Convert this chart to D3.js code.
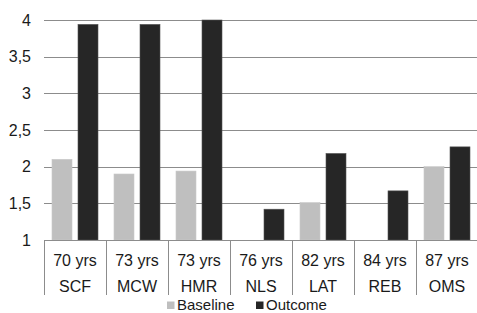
<!DOCTYPE html>
<html>
<head>
<meta charset="utf-8">
<script src="https://cdn.jsdelivr.net/npm/d3@7"></script>
<style>
html,body{margin:0;padding:0;background:#fff;overflow:hidden;}
text{font-family:"Liberation Sans",Arial,sans-serif;}
</style>
</head>
<body>
<svg id="chart" width="477" height="313"></svg>
<script>
const categories = ["SCF","MCW","HMR","NLS","LAT","REB","OMS"];
const ages = ["70 yrs","73 yrs","73 yrs","76 yrs","82 yrs","84 yrs","87 yrs"];
const seriesNames = ["Baseline","Outcome"];
const baseline = [2.10, 1.90, 1.94, null, 1.51, null, 2.00];
const outcome = [3.94, 3.94, 4.00, 1.42, 2.18, 1.67, 2.27];
const yTicks = [1, 1.5, 2, 2.5, 3, 3.5, 4];
const yTickLabels = ["1","1,5","2","2,5","3","3,5","4"];
const colors = ["#bfbfbf", "#262626"];

(function(){
const svg = d3.select("#chart");
const mLeft = 44, mRight = 478, mTop = 20, mBottom = 240;

const x = d3.scaleBand().domain(d3.range(categories.length)).range([mLeft, mRight]).padding(0);
const xInner = d3.scaleBand().domain([0,1]).range([0, x.bandwidth()])
  .paddingInner(6/26).paddingOuter(8/26);
const y = d3.scaleLinear().domain([1, 4]).range([mBottom, mTop]);

// gridlines
svg.append("g").selectAll("line").data(yTicks.filter(d => d > 1)).join("line")
  .attr("x1", mLeft).attr("x2", 477)
  .attr("y1", d => Math.round(y(d)) + 0.5).attr("y2", d => Math.round(y(d)) + 0.5)
  .attr("stroke", "#8c8c8c").attr("stroke-width", 1);

// y labels
svg.append("g").selectAll("text").data(yTicks).join("text")
  .attr("x", 31).attr("y", d => y(d) + 5.5)
  .attr("text-anchor", "end").attr("font-size", 16).attr("fill", "#1a1a1a")
  .text((d, i) => yTickLabels[i]);

// bars
const series = [baseline, outcome];
series.forEach((vals, s) => {
  svg.append("g").selectAll("rect")
    .data(vals.map((v, i) => ({v, i})).filter(d => d.v != null))
    .join("rect")
    .attr("x", d => x(d.i) + xInner(s))
    .attr("width", xInner.bandwidth())
    .attr("y", d => y(d.v))
    .attr("height", d => y(1) - y(d.v))
    .attr("fill", colors[s])
    .attr("stroke", s === 1 ? "#555" : "#c8c8c8")
    .attr("stroke-width", 0.6);
});

// x axis line
svg.append("line").attr("x1", mLeft).attr("x2", 477)
  .attr("y1", mBottom + 0.5).attr("y2", mBottom + 0.5)
  .attr("stroke", "#8c8c8c");

// separators
svg.append("g").selectAll("line").data(d3.range(categories.length + 1)).join("line")
  .attr("x1", i => Math.round(mLeft + i * x.step()) + 0.5)
  .attr("x2", i => Math.round(mLeft + i * x.step()) + 0.5)
  .attr("y1", mBottom).attr("y2", 295)
  .attr("stroke", "#8c8c8c");

// labels
svg.append("g").selectAll("text").data(ages).join("text")
  .attr("x", (d, i) => x(i) + x.bandwidth() / 2).attr("y", 265.5)
  .attr("text-anchor", "middle").attr("font-size", 16).attr("fill", "#1a1a1a")
  .text(d => d);
svg.append("g").selectAll("text").data(categories).join("text")
  .attr("x", (d, i) => x(i) + x.bandwidth() / 2).attr("y", 292)
  .attr("text-anchor", "middle").attr("font-size", 16).attr("fill", "#1a1a1a")
  .text(d => d);

// legend
const legX = [167, 256];
const lg = svg.append("g").selectAll("g").data(seriesNames).join("g");
lg.append("rect").attr("x", (d, i) => legX[i]).attr("y", 301.5)
  .attr("width", 7.5).attr("height", 7.5).attr("fill", (d, i) => colors[i]);
lg.append("text").attr("x", (d, i) => legX[i] + 10).attr("y", 310)
  .attr("font-size", 15).attr("fill", "#1a1a1a").text(d => d);
})();
</script>
</body>
</html>
